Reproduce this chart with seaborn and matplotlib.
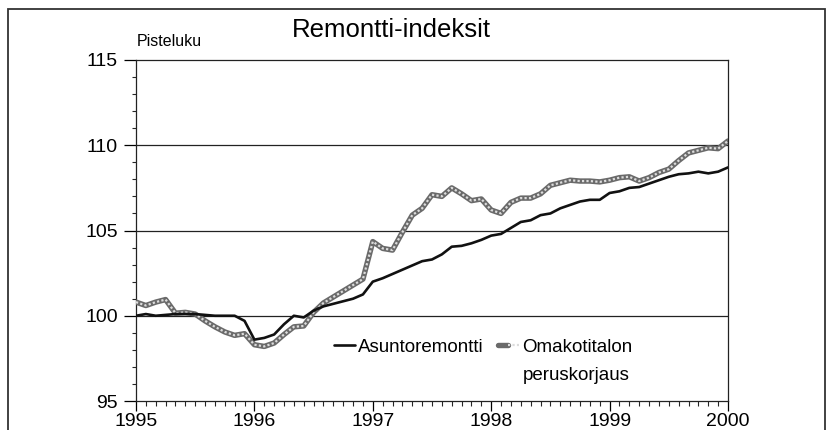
import numpy as np
import pandas as pd
import matplotlib
matplotlib.use("Agg")
import matplotlib.pyplot as plt
import seaborn as sns
from matplotlib.lines import Line2D
from matplotlib.legend_handler import HandlerTuple
from matplotlib.patches import Rectangle
from matplotlib.ticker import MultipleLocator

# ---- data (monthly, Jan 1995 .. Jan 2000) ----
start_year = 1995
asuntoremontti = [
    100.0, 100.1, 100.0, 100.05, 100.1, 100.1, 100.1, 100.05, 100.0, 100.0, 100.0, 99.7,
    98.6, 98.7, 98.9, 99.5, 100.0, 99.9, 100.3, 100.55, 100.7, 100.85, 101.0, 101.25,
    102.0, 102.2, 102.45, 102.7, 102.95, 103.2, 103.3, 103.6, 104.05, 104.1, 104.25, 104.45,
    104.7, 104.8, 105.15, 105.5, 105.6, 105.9, 106.0, 106.3, 106.5, 106.7, 106.8, 106.8,
    107.2, 107.3, 107.5, 107.55, 107.75, 107.95, 108.15, 108.3, 108.35, 108.45, 108.35, 108.45,
    108.7,
]
omakotitalo = [
    100.8, 100.6, 100.8, 100.95, 100.15, 100.2, 100.1, 99.7, 99.35, 99.05, 98.85, 98.95,
    98.3, 98.2, 98.4, 98.9, 99.35, 99.4, 100.2, 100.75, 101.1, 101.45, 101.8, 102.15,
    104.35, 103.95, 103.85, 104.9, 105.9, 106.3, 107.1, 107.0, 107.5, 107.15, 106.75, 106.85,
    106.2, 106.0, 106.65, 106.9, 106.9, 107.15, 107.65, 107.8, 107.95, 107.9, 107.9, 107.85,
    107.95, 108.1, 108.15, 107.9, 108.1, 108.4, 108.6, 109.1, 109.55, 109.7, 109.85, 109.8,
    110.25,
]
year_ticks = [1995, 1996, 1997, 1998, 1999, 2000]
y_ticks = [95, 100, 105, 110, 115]
title = "Remontti-indeksit"
ylabel = "Pisteluku"
label_a = "Asuntoremontti"
label_b1 = "Omakotitalon"
label_b2 = "peruskorjaus"

months = start_year + np.arange(len(asuntoremontti)) / 12.0
df = pd.DataFrame({"aika": months, "a": asuntoremontti, "b": omakotitalo})

sns.set_style("ticks")
plt.rcParams["font.family"] = ["Liberation Sans", "DejaVu Sans"]
plt.rcParams["text.color"] = "black"

W, H = 827, 430
fig = plt.figure(figsize=(W / 100, H / 100), dpi=100)
ax = fig.add_axes([136 / W, 1 - 401 / H, (728 - 136) / W, (401 - 60) / H])

# outer frame
fig.patches.append(Rectangle((8 / W, -0.05), (825 - 8) / W, 1.05 - 9 / H,
                             transform=fig.transFigure, fill=False,
                             edgecolor="#333333", linewidth=1.3))

# gridlines
for yv in [100, 105, 110]:
    ax.axhline(yv, color="#222222", linewidth=0.9, zorder=1)

# series
sns.lineplot(data=df, x="aika", y="b", ax=ax, color="#6a6a6a", linewidth=3.9,
             zorder=3, legend=False)
sns.lineplot(data=df, x="aika", y="b", ax=ax, color="#dcdcdc", linewidth=1.6,
             linestyle=(0, (1, 1)), zorder=4, legend=False)
sns.lineplot(data=df, x="aika", y="a", ax=ax, color="#111111", linewidth=1.9,
             zorder=5, legend=False)

ax.set_xlim(1995, 2000)
ax.set_ylim(95, 115)
ax.set_xticks(year_ticks)
ax.set_xticklabels([str(y) for y in year_ticks])
ax.xaxis.set_minor_locator(MultipleLocator(1 / 12))
ax.set_yticks(y_ticks)
ax.yaxis.set_minor_locator(MultipleLocator(1))
ax.tick_params(axis="both", which="major", labelsize=14, colors="black",
               width=0.9, direction="out")
ax.tick_params(axis="x", which="major", length=7, pad=2)
ax.tick_params(axis="y", which="major", length=9, pad=4)
ax.tick_params(axis="x", which="minor", length=3.5, width=0.8, direction="out")
ax.tick_params(axis="y", which="minor", length=3, width=0.8, direction="out")
ax.set_xlabel("")
ax.set_ylabel("")
for sp in ax.spines.values():
    sp.set_visible(True)
    sp.set_linewidth(0.9)
    sp.set_color("#222222")

fig.text(391 / W, 1 - 30 / H, title, ha="center", va="center", fontsize=18.5)
fig.text(137 / W, 1 - 46 / H, ylabel, ha="left", va="baseline", fontsize=11.5)

# legend
h_a = Line2D([], [], color="#111111", linewidth=1.9)
h_b1 = Line2D([], [], color="#6a6a6a", linewidth=3.9)
h_b2 = Line2D([], [], color="#dcdcdc", linewidth=1.6, linestyle=(0, (1, 1)))
leg = ax.legend([h_a, (h_b1, h_b2)], [label_a, label_b1],
                handler_map={tuple: HandlerTuple(ndivide=None, pad=0)},
                loc="center left", bbox_to_anchor=(334 / W, 1 - 347 / H),
                bbox_transform=fig.transFigure, ncol=2, frameon=False,
                fontsize=13.5, handlelength=1.1, handletextpad=0.2,
                columnspacing=0.75, borderpad=0, borderaxespad=0)

fig.canvas.draw()
bb = leg.get_texts()[1].get_window_extent()
fig.text(bb.x0 / W, (bb.y0 - 28) / H, label_b2,
         ha="left", va="bottom", fontsize=13.5)

fig.savefig("out.png", dpi=100)
